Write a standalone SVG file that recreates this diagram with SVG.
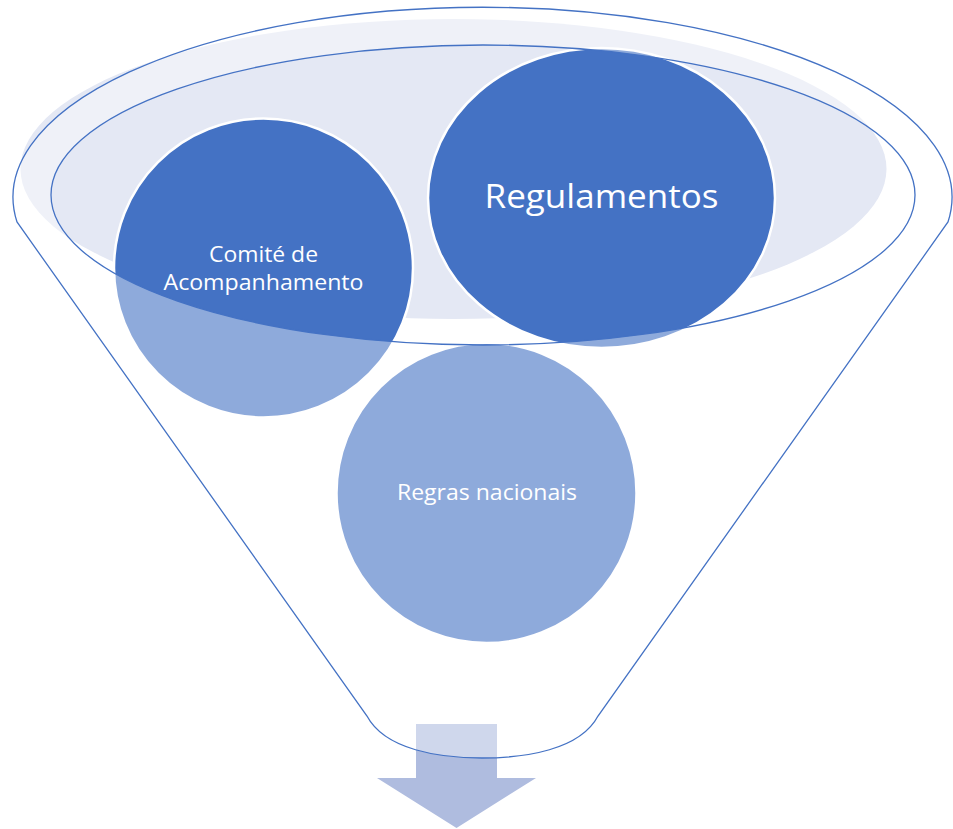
<svg xmlns="http://www.w3.org/2000/svg" width="953" height="829" viewBox="0 0 953 829">
  <style>
    .node { fill: #4472C4; stroke: #FFFFFF; stroke-width: 2.5; }
    .label { fill: #FFFFFF; font-family: "Open Sans", "Noto Sans", sans-serif; font-size: 22px; text-anchor: middle; }
    .big { font-size: 32px; }
    .outline { fill: none; stroke: #4472C4; stroke-width: 1.3; }
  </style>
  <defs>
    <clipPath id="innerClip">
      <ellipse cx="483" cy="195" rx="432" ry="150"/>
    </clipPath>
  </defs>
  <rect width="953" height="829" fill="#FFFFFF"/>

  <!-- light top ellipse -->
  <g id="funnel-top-fill">
    <ellipse cx="453.5" cy="169" rx="433" ry="150" fill="#E4E8F4"/>
  </g>

  <!-- output arrow -->
  <g id="connectors">
    <polygon points="416,724 497,724 497,778 536,778 456.5,828 377,778 416,778" fill="#AFBCDF"/>
  </g>

  <g id="node-comite">
    <circle class="node" cx="263.5" cy="268" r="149.5"/>
  </g>
  <g id="node-regulamentos">
    <ellipse class="node" cx="601.5" cy="198" rx="173.5" ry="150"/>
  </g>
  <g id="node-regras">
    <circle class="node" cx="486.5" cy="493" r="150"/>
  </g>

  <!-- funnel body: white translucent overlay outside the top opening -->
  <g id="funnel">
    <path d="M17,222 A469.5,190 0 1 1 948,222 L598,716 C580,750 525,758 482,758 C440,758 385,750 367,716 Z M51,195 A432,150 0 1 0 915,195 A432,150 0 1 0 51,195 Z" fill="#FFFFFF" fill-opacity="0.4" fill-rule="evenodd"/>
    <path class="outline" d="M17,222 A469.5,190 0 1 1 948,222 L598,716 C580,750 525,758 482,758 C440,758 385,750 367,716 Z"/>
    <ellipse class="outline" cx="483" cy="195" rx="432" ry="150"/>
  </g>

  <g id="labels">
    <text class="label" x="263.5" y="262" textLength="109" lengthAdjust="spacingAndGlyphs">Comité de</text>
    <text class="label" x="263.5" y="290" textLength="200" lengthAdjust="spacingAndGlyphs">Acompanhamento</text>
    <text class="label big" x="601.5" y="208" textLength="234" lengthAdjust="spacingAndGlyphs">Regulamentos</text>
    <text class="label" x="487" y="500" textLength="180" lengthAdjust="spacingAndGlyphs">Regras nacionais</text>
  </g>
</svg>
